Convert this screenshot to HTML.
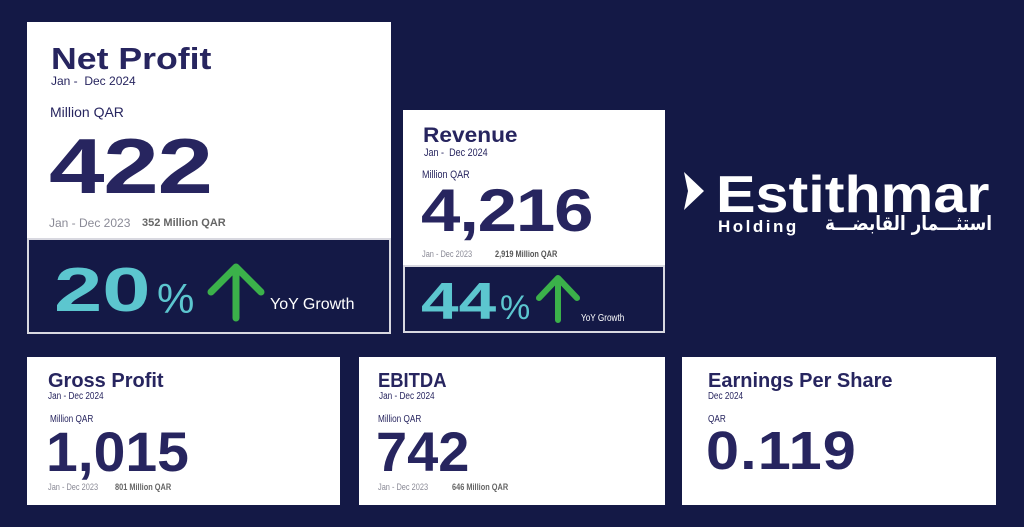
<!DOCTYPE html>
<html><head><meta charset="utf-8"><style>
*{margin:0;padding:0;box-sizing:border-box}
body{width:1024px;height:527px;background:#141946;position:relative;overflow:hidden;font-family:"Liberation Sans",sans-serif;color:#27255f}
.a{position:absolute;white-space:nowrap;line-height:1;transform-origin:0 0}
.w{position:absolute;background:#fff}
.d{position:absolute;background:#141946;border:2px solid #d8d8e0}
.b{font-weight:bold}
.g{color:#8a8a96}
.c{transform:scaleX(0.82)}
.cy{color:#5cc6cf;font-weight:bold}
</style></head><body>
<!-- Net Profit -->
<div class="w" style="left:27px;top:22px;width:364px;height:218px"></div>
<div class="d" style="left:27px;top:238px;width:364px;height:96px"></div>
<div class="a b" style="left:51px;top:43px;font-size:31px;transform:scaleX(1.15)">Net Profit</div>
<div class="a" style="left:51px;top:75px;font-size:12px">Jan -&nbsp; Dec 2024</div>
<div class="a" style="left:50px;top:105px;font-size:14px">Million QAR</div>
<div class="a b" style="left:49px;top:127px;font-size:78px;letter-spacing:-1px;transform:scaleX(1.28)">422</div>
<div class="a g" style="left:49px;top:217px;font-size:12px">Jan - Dec 2023</div>
<div class="a b g" style="left:142px;top:218px;font-size:11px;color:#666">352 Million QAR</div>
<div class="a cy" style="left:54px;top:260px;font-size:62px;transform:scaleX(1.4)">20</div>
<div class="a" style="left:157px;top:278px;font-size:42px;color:#5cc6cf">%</div>
<svg class="a" style="left:205px;top:262px" width="62" height="60"><path d="M31 56V6M6 30L31 5L56 30" stroke="#3bb14a" stroke-width="7" fill="none" stroke-linecap="round" stroke-linejoin="round"/></svg>
<div class="a" style="left:270px;top:297px;font-size:16px;color:#fff">YoY Growth</div>
<!-- Revenue -->
<div class="w" style="left:403px;top:110px;width:262px;height:157px"></div>
<div class="d" style="left:403px;top:265px;width:262px;height:68px"></div>
<div class="a b" style="left:423px;top:125px;font-size:21px;transform:scaleX(1.08)">Revenue</div>
<div class="a c" style="left:424px;top:148px;font-size:11px">Jan -&nbsp; Dec 2024</div>
<div class="a c" style="left:422px;top:170px;font-size:11px">Million QAR</div>
<div class="a b" style="left:421px;top:181px;font-size:60px;letter-spacing:-1px;transform:scaleX(1.18)">4,216</div>
<div class="a c g" style="left:422px;top:250px;font-size:9px">Jan - Dec 2023</div>
<div class="a b c" style="left:495px;top:250px;font-size:9px;color:#555">2,919 Million QAR</div>
<div class="a cy" style="left:421px;top:276px;font-size:52px;transform:scaleX(1.3)">44</div>
<div class="a" style="left:500px;top:291px;font-size:34px;color:#5cc6cf">%</div>
<svg class="a" style="left:534px;top:274px" width="48" height="50"><path d="M24 46V5M5 24L24 4L43 24" stroke="#3bb14a" stroke-width="6" fill="none" stroke-linecap="round" stroke-linejoin="round"/></svg>
<div class="a c" style="left:581px;top:314px;font-size:10px;color:#fff">YoY Growth</div>
<!-- Logo -->
<svg class="a" style="left:684px;top:172px" width="22" height="40"><path d="M0 0L20 19L0 38L4 19Z" fill="#fff"/></svg>
<div class="a b" style="left:716px;top:169px;font-size:52px;color:#fff;transform:scaleX(1.14)">Estithmar</div>
<div class="a b" style="left:718px;top:218px;font-size:17px;color:#fff;letter-spacing:2.5px">Holding</div>
<div class="a b" style="left:825px;top:213px;font-size:20px;color:#fff;font-family:'DejaVu Sans',sans-serif;transform:scaleX(0.84)">استثـــمار القابضـــة</div>
<!-- Bottom cards -->
<div class="w" style="left:27px;top:357px;width:313px;height:148px"></div>
<div class="w" style="left:359px;top:357px;width:306px;height:148px"></div>
<div class="w" style="left:682px;top:357px;width:314px;height:148px"></div>

<div class="a b" style="left:48px;top:371px;font-size:20px">Gross Profit</div>
<div class="a c" style="left:48px;top:392px;font-size:10px">Jan - Dec 2024</div>
<div class="a c" style="left:50px;top:415px;font-size:10px">Million QAR</div>
<div class="a b" style="left:46px;top:424px;font-size:56px;transform:scaleX(1.02)">1,015</div>
<div class="a c g" style="left:48px;top:483px;font-size:9px">Jan - Dec 2023</div>
<div class="a b c" style="left:115px;top:483px;font-size:9px;color:#666">801 Million QAR</div>

<div class="a b c" style="left:378px;top:371px;font-size:20px;transform:scaleX(0.92)">EBITDA</div>
<div class="a c" style="left:379px;top:392px;font-size:10px">Jan - Dec 2024</div>
<div class="a c" style="left:378px;top:415px;font-size:10px">Million QAR</div>
<div class="a b" style="left:376px;top:424px;font-size:56px;transform:scaleX(1.0)">742</div>
<div class="a c g" style="left:378px;top:483px;font-size:9px">Jan - Dec 2023</div>
<div class="a b c" style="left:452px;top:483px;font-size:9px;color:#666">646 Million QAR</div>

<div class="a b" style="left:708px;top:371px;font-size:20px">Earnings Per Share</div>
<div class="a c" style="left:708px;top:392px;font-size:10px">Dec 2024</div>
<div class="a c" style="left:708px;top:415px;font-size:10px">QAR</div>
<div class="a b" style="left:706px;top:424px;font-size:54px;letter-spacing:1px;transform:scaleX(1.1)">0.119</div>
</body></html>
